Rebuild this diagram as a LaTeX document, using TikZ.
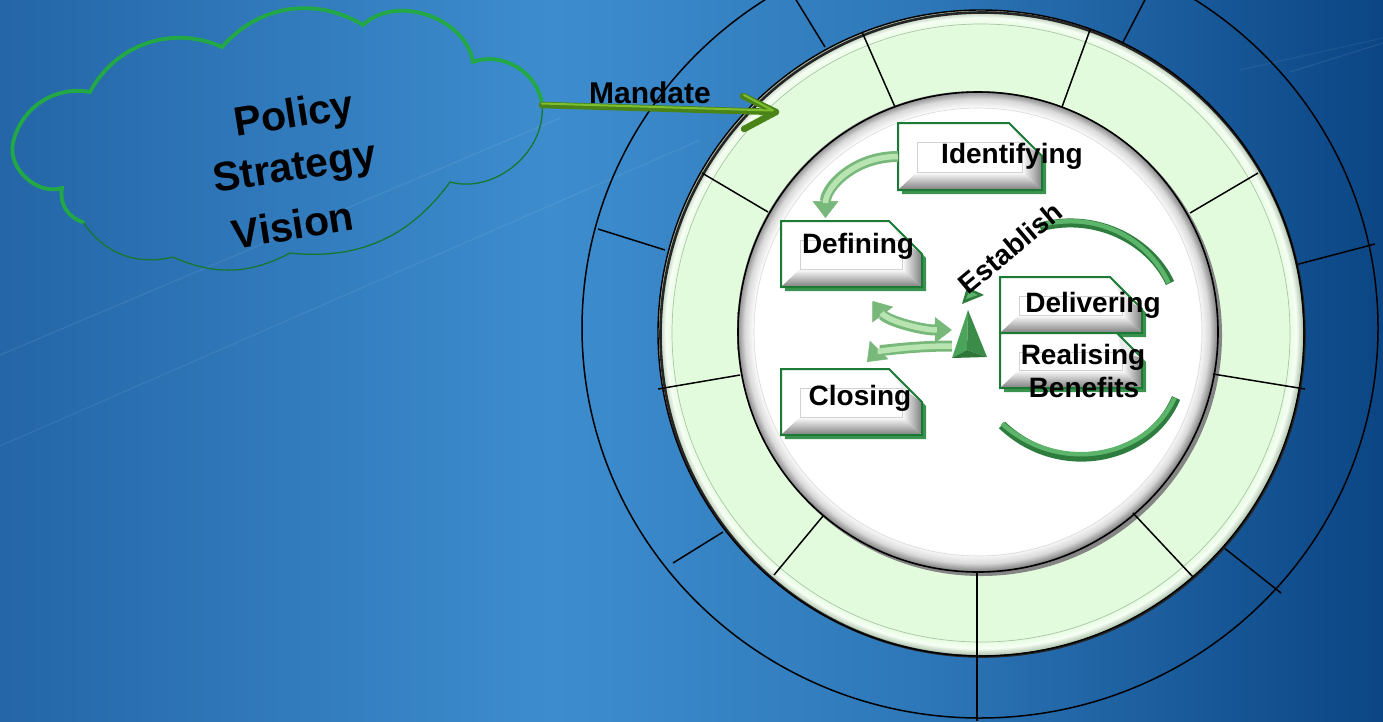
\documentclass[tikz,border=0pt]{standalone}
\usepackage{fontspec}
\setmainfont{Liberation Sans}
\usetikzlibrary{arrows.meta,fit,calc}
\definecolor{bgA}{HTML}{2466A8}
\definecolor{bgB}{HTML}{3D8DCE}
\definecolor{bgC}{HTML}{2E78B9}
\definecolor{bgD}{HTML}{0B4584}
\definecolor{ringgreen}{HTML}{E3FBDD}
\definecolor{ringhi}{HTML}{F6FFF4}
\definecolor{ringedge}{HTML}{A6BBA4}
\definecolor{ringline}{HTML}{A9C4A6}
\definecolor{rimA}{HTML}{D9D9D9}
\definecolor{rimB}{HTML}{858585}
\definecolor{boxgreen}{HTML}{1B7A35}
\definecolor{boxshadow}{HTML}{3A9450}
\definecolor{bevgray}{HTML}{7E7E7E}
\definecolor{tubeDark}{HTML}{78B87B}
\definecolor{tubeLight}{HTML}{B8E4B2}
\definecolor{arcDark}{HTML}{2F7D3E}
\definecolor{arcLight}{HTML}{5DB56B}
\definecolor{mandDark}{HTML}{4A8418}
\definecolor{mandLight}{HTML}{7DBF2E}
\definecolor{cloudBright}{HTML}{22A845}
\definecolor{cloudDark}{HTML}{17772F}
\definecolor{triL}{HTML}{4CA45A}
\definecolor{triR}{HTML}{3B8C49}
\definecolor{triB}{HTML}{2D7539}
\pgfdeclarehorizontalshading{bgshade}{100bp}{color(0bp)=(bgA); color(25bp)=(bgA); color(45bp)=(bgB); color(58bp)=(bgC); color(75bp)=(bgD); color(100bp)=(bgD)}
\pgfdeclareradialshading{rimshade}{\pgfpoint{0bp}{0bp}}{color(0bp)=(white); color(23.2bp)=(white); color(24.2bp)=(rimA); color(25bp)=(rimB); color(50bp)=(rimB)}
\pgfdeclareradialshading{ringshade}{\pgfpoint{0bp}{0bp}}{color(0bp)=(ringgreen); color(23.8bp)=(ringgreen); color(24.4bp)=(ringhi); color(25bp)=(ringedge); color(50bp)=(ringedge)}

\newcommand\bevbox[6]{%
 \path (#2,#3) coordinate (#1-a) (#4,#5) coordinate (#1-b);
 \node[fit=(#1-a)(#1-b), inner sep=0pt, outer sep=0pt] (#1) {};
 \coordinate (#1-in1) at ([shift={(19pt,-19pt)}]#1.north west);
 \coordinate (#1-in2) at ([shift={(-20pt,18pt)}]#1.south east);
 \coordinate (#1-in3) at (#1-in1 -| #1-in2);
 \coordinate (#1-in4) at (#1-in1 |- #1-in2);
 \coordinate (#1-c1) at ([xshift=-#6]#1.north east);
 \coordinate (#1-c2) at ([yshift=-#6]#1.north east);
 \fill[boxshadow] ([shift={(4pt,-4pt)}]#1.north west) -- ([shift={(4pt,-4pt)}]#1-c1) -- ([shift={(4pt,-4pt)}]#1-c2) -- ([shift={(4pt,-4pt)}]#1.south east) -- ([shift={(4pt,-4pt)}]#1.south west) -- cycle;
 \fill[white] (#1.north west) -- (#1-c1) -- (#1-c2) -- (#1.south east) -- (#1.south west) -- cycle;
 \shade[top color=white, bottom color=bevgray] (#1.south west) -- (#1.south east) -- (#1-in2) -- (#1-in4) -- cycle;
 \shade[left color=white, right color=bevgray] (#1-c2) -- (#1.south east) -- (#1-in2) -- (#1-in3) -- cycle;
 \fill[gray!15] (#1-c1) -- (#1-c2) -- (#1-in3) -- cycle;
 \draw[gray!35, line width=0.8pt] (#1-in1) rectangle (#1-in2);
 \draw[boxborder] (#1.north west) -- (#1-c1) -- (#1-c2) -- (#1.south east) -- (#1.south west) -- cycle;
}

\begin{document}
\begin{tikzpicture}[x=1pt,y=-1pt,
  divider/.style={black, line width=1.5pt},
  boxborder/.style={draw=boxgreen, line width=2pt, line join=miter},
  boxtxt/.style={font=\fontsize{28}{33}\selectfont\bfseries, inner sep=0pt, align=center},
  cloudtxt/.style={font=\fontsize{41}{41}\selectfont\bfseries, inner sep=0pt, rotate=9},
  tubeD/.style={draw=tubeDark, line width=11pt},
  tubeL/.style={draw=tubeLight, line width=5.5pt},
  tubetip/.tip={Triangle[length=17pt,width=26pt,line width=0.5pt,fill=tubeDark]},
  bigarcD/.style={draw=arcDark, line width=9pt},
  bigarcL/.style={draw=arcLight, line width=4.5pt},
  mandD/.style={draw=mandDark, line width=6.5pt, line cap=round, line join=round},
  mandL/.style={draw=mandLight, line width=2pt, line cap=round, line join=round},
  cloudthin/.style={draw=cloudDark, line width=1.3pt},
  cloudthick/.style={draw=cloudBright, line width=3.8pt, line cap=round}]
\useasboundingbox (0,0) rectangle (1383,721);
\begin{scope}
\clip (0,0) rectangle (1383,721);
\shade[shading=bgshade] (0,0) rectangle (1383,721);
% faint streaks
\draw[white, opacity=0.08, line width=1.2pt] (0,355) -- (560,118);
\draw[white, opacity=0.07, line width=1.2pt] (0,446) -- (700,140);
\draw[white, opacity=0.08, line width=1.2pt] (1290,72) -- (1383,43);
\draw[white, opacity=0.06, line width=1.2pt] (1240,70) -- (1383,38);

% outer ring
\draw[black, line width=1.5pt] (980,328) ellipse [x radius=398pt, y radius=390pt];
\draw[divider] (825,47) -- (790,-10);
\draw[divider] (1120,48) -- (1150,-10);
\draw[divider] (1295,265) -- (1375,244);
\draw[divider] (1223,547) -- (1281,593);
\draw[divider] (723,532) -- (673,563);
\draw[divider] (665,250) -- (598,229);

% green ring
\shade[shading=ringshade] (981,333) circle[radius=323pt];
\draw[ringline, line width=0.7pt] (981,333) circle[radius=309pt];
\draw[black!85, line width=2.6pt] (982.5,334.5) circle[radius=322pt];
\draw[black, line width=1.4pt] (981,333) circle[radius=323pt];

% white disk
\fill[rimB] (981,335) circle[radius=241pt];
\shade[shading=rimshade] (977,331) circle[radius=240pt];
\draw[black, line width=1.6pt] (978,332) circle[radius=240pt];
\draw[gray!30, line width=0.6pt] (978,332) circle[radius=224pt];

% green ring dividers
\draw[divider] (862,32) -- (895,107);
\draw[divider] (1090,30) -- (1062,107);
\draw[divider] (1258,173) -- (1190,213);
\draw[divider] (1213,374) -- (1305,389);
\draw[divider] (1133,513) -- (1193,577);
\draw[divider] (977,572) -- (977,721);
\draw[divider] (823,516) -- (774,575);
\draw[divider] (740,375) -- (658,389);
\draw[divider] (768,212) -- (702,173);

% boxes
\bevbox{ident}{898}{123}{1042}{190}{33pt}
\bevbox{defin}{781}{221}{922}{287}{33pt}
\bevbox{closing}{781}{369}{922}{435}{33pt}
\bevbox{deliv}{1000}{277}{1142}{333}{32pt}
\bevbox{realis}{1000}{333}{1142}{388}{25pt}

% establish arcs
\coordinate (estA) at (1040,227);
\coordinate (estB) at (1170,283);
\coordinate (estC) at (1176,398);
\coordinate (estD) at (1002,425);
\draw[bigarcD] (estA) .. controls (1095,212) and (1150,240) .. (estB);
\draw[bigarcL] ([shift={(0pt,1.5pt)}]estA) .. controls (1095,210) and (1148,238) .. ([shift={(-1.5pt,0pt)}]estB);
\draw[bigarcD] (estC) .. controls (1150,460) and (1060,480) .. (estD);
\draw[bigarcL] ([shift={(-1.5pt,0pt)}]estC) .. controls (1148,457) and (1060,476) .. ([shift={(0pt,1.5pt)}]estD);
\coordinate (estTip) at (962,304);
\fill[arcDark] (estTip) -- (967,287) -- (984,295) -- cycle;
\fill[arcLight] (966,299) -- (969,291) -- (978,295) -- cycle;

% triangle
\node[minimum width=35pt, minimum height=48pt, inner sep=0pt] (tri) at (969.5,334) {};
\fill[triL] (968,310) -- (952,358) -- (967,350) -- cycle;
\fill[triR] (968,310) -- (967,350) -- (987,357) -- cycle;
\fill[triB] (952,358) -- (987,357) -- (967,350) -- cycle;

% connectors
\draw[tubeD, -{tubetip}] (ident.west) .. controls +(-45pt,0pt) and +(0pt,30pt) .. ([xshift=-26pt,yshift=3pt]defin.north);
\draw[tubeL, shorten >=15pt] (ident.west) .. controls +(-45pt,0pt) and +(0pt,30pt) .. ([xshift=-26pt,yshift=3pt]defin.north);
\draw[tubeD, {tubetip}-{tubetip}] ([xshift=21pt,yshift=-14pt]defin.south) .. controls +(15pt,-20pt) and +(-30pt,0pt) .. ([yshift=4pt]tri.west);
\draw[tubeL, shorten >=15pt, shorten <=15pt] ([xshift=21pt,yshift=-14pt]defin.south) .. controls +(15pt,-20pt) and +(-30pt,0pt) .. ([yshift=4pt]tri.west);
\draw[tubeD, -{tubetip}] ([yshift=-12pt]tri.west) .. controls +(-45pt,0pt) and +(10pt,10pt) .. ([xshift=15.5pt,yshift=7pt]closing.north);
\draw[tubeL, shorten >=15pt] ([yshift=-12pt]tri.west) .. controls +(-45pt,0pt) and +(10pt,10pt) .. ([xshift=15.5pt,yshift=7pt]closing.north);

% box texts
\node[boxtxt, anchor=base] (identT) at (1012,163) {Identifying};
\node[boxtxt, anchor=base] (definT) at (858,253) {Defining};
\node[boxtxt, anchor=base] (closingT) at (860,405) {Closing};
\node[boxtxt, anchor=base] (delivT) at (1093,312) {Delivering};
\node[boxtxt, anchor=base] (realisT) at (1083,364) {Realising};
\node[boxtxt, anchor=base] (benefT) at (1084,397) {Benefits};
\node[boxtxt, rotate=40] (estT) at (1010,248) {Establish};

% cloud
\coordinate (P1) at (13,143);
\coordinate (P2) at (90,92);
\coordinate (P3) at (222,47);
\coordinate (P4) at (363,25);
\coordinate (P5) at (473,62);
\coordinate (P6) at (542,105);
\coordinate (P7) at (450,182);
\coordinate (P8) at (290,253);
\coordinate (P9) at (173,257);
\coordinate (P10) at (83,222);
\coordinate (P11) at (62,188);
\draw[cloudthin] (P1) to[bend left=44] (P2) to[bend left=43] (P3) to[bend left=40] (P4) to[bend left=62] (P5) to[bend left=53] (P6) to[bend left=55] (P7) to[bend left=30] (P8) to[bend left=26] (P9) to[bend left=35] (P10) to[bend left=43] (P11) to[bend left=60] (P1);
\draw[cloudthick] (P10) to[bend left=43] (P11) to[bend left=60] (P1) to[bend left=44] (P2) to[bend left=43] (P3) to[bend left=40] (P4) to[bend left=62] (P5) to[bend left=53] (P6);
\node[cloudtxt] (policy) at (294,117) {Policy};
\node[cloudtxt] (strategy) at (295,170) {Strategy};
\node[cloudtxt] (vision) at (293,225) {Vision};

% mandate
\coordinate (mandTip) at (776,112);
\draw[mandD] (P6) -- (mandTip);
\draw[mandD] ([shift={(-33pt,16pt)}]mandTip) -- (mandTip) -- ([shift={(-32pt,-17pt)}]mandTip);
\draw[mandL] ([shift={(0pt,1.5pt)}]P6) -- ([shift={(-4pt,1.5pt)}]mandTip);
\draw[mandL] ([shift={(-32pt,17pt)}]mandTip) -- ([shift={(-3pt,1.5pt)}]mandTip);
\node[boxtxt, anchor=base, font=\fontsize{30}{30}\selectfont\bfseries] (mandT) at (650,103) {Mandate};
\end{scope}
\end{tikzpicture}
\end{document}
